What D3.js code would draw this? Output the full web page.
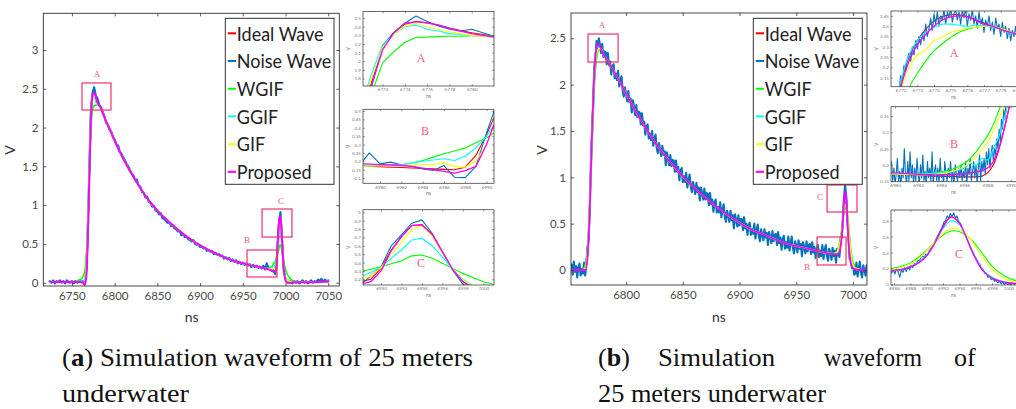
<!DOCTYPE html>
<html><head><meta charset="utf-8">
<script src="https://cdn.jsdelivr.net/npm/d3@7"></script>
<style>body{margin:0;background:#fff}svg{display:block}</style>
</head><body>
<script>
// ================= DATA =================
const seriesNames = ["Ideal Wave","Noise Wave","WGIF","GGIF","GIF","Proposed"];

// ---- Panel (a) main: filtered curves (time in ns, value in V)
const tA = [6725,6735,6745,6755,6760,6763,6765,6767,6769,6771,
            6773,6775,6776,6778,6780,6783,6786,6790,6795,6800,
            6810,6820,6830,6840,6850,6860,6870,6880,6890,6900,
            6910,6920,6930,6940,6950,6960,6970,6978,6983,6986,
            6988,6989,6990,6991,6992,6993,6994,6995,6996,6997,
            6998,6999,7000,7002,7005,7010,7020,7030,7040,7050];
const idealA = [0.01,0.01,0.01,0.01,0.01,0.01,0.00,0.15,0.80,1.65,
                2.32,2.46,2.45,2.39,2.33,2.27,2.19,2.08,1.96,1.83,
                1.60,1.40,1.22,1.06,0.93,0.82,0.72,0.63,0.55,0.48,
                0.42,0.37,0.32,0.28,0.25,0.22,0.20,0.18,0.165,0.155,
                0.165,0.20,0.33,0.55,0.71,0.84,0.855,0.73,0.52,0.32,
                0.18,0.10,0.05,0.02,0.01,0.005,0.005,0.005,0.01,0.015];
const wgifA = [0.01,0.01,0.01,0.02,0.04,0.08,0.15,0.40,0.90,1.60,
               2.11,2.27,2.28,2.29,2.29,2.26,2.19,2.08,1.96,1.83,
               1.60,1.40,1.22,1.06,0.93,0.82,0.72,0.63,0.55,0.48,
               0.42,0.37,0.32,0.28,0.25,0.22,0.20,0.19,0.20,0.245,
               0.28,0.31,0.35,0.385,0.42,0.48,0.49,0.45,0.39,0.33,
               0.27,0.22,0.17,0.11,0.06,0.02,0.01,0.01,0.01,0.015];
const ggifA = [0.01,0.01,0.01,0.01,0.015,0.02,0.04,0.30,1.00,1.80,
               2.31,2.42,2.40,2.33,2.30,2.26,2.19,2.08,1.96,1.83,
               1.60,1.40,1.22,1.06,0.93,0.82,0.72,0.63,0.55,0.48,
               0.42,0.37,0.32,0.28,0.25,0.22,0.20,0.18,0.19,0.21,
               0.23,0.28,0.35,0.45,0.55,0.67,0.69,0.60,0.47,0.32,
               0.20,0.12,0.07,0.04,0.02,0.01,0.005,0.005,0.01,0.015];
const gifA = [0.01,0.01,0.01,0.01,0.01,0.00,-0.02,0.25,0.90,1.70,
              2.29,2.44,2.42,2.36,2.31,2.26,2.19,2.08,1.96,1.83,
              1.60,1.40,1.22,1.06,0.93,0.82,0.72,0.63,0.55,0.48,
              0.42,0.37,0.32,0.28,0.25,0.22,0.20,0.18,0.175,0.185,
              0.165,0.20,0.30,0.49,0.64,0.80,0.84,0.72,0.52,0.33,
              0.19,0.11,0.06,0.03,0.015,0.005,0.005,0.005,0.01,0.015];
const propA = [0.01,0.01,0.01,0.01,0.01,0.00,-0.03,0.10,0.75,1.62,
               2.30,2.45,2.45,2.39,2.32,2.27,2.19,2.08,1.96,1.83,
               1.60,1.40,1.22,1.06,0.93,0.82,0.72,0.63,0.55,0.48,
               0.42,0.37,0.32,0.28,0.25,0.22,0.20,0.18,0.16,0.14,
               0.145,0.17,0.30,0.54,0.71,0.845,0.85,0.74,0.53,0.32,
               0.17,0.09,0.03,0.00,0.00,0.005,0.005,0.005,0.01,0.015];
// noisy wave (a): sampled every 2 ns from 6724 ns
const noiseA_t0 = 6724, noiseA_dt = 2;
const noiseA = [
 0.02,0.00,0.03,-0.01,0.02,0.01,0.03,0.00,0.02,-0.01,
 0.03,0.01,0.00,0.02,-0.01,0.02,0.00,0.03,0.01,0.02,
 0.00,0.05,0.45,1.30,2.17,2.44,2.52,2.41,2.37,2.29,
 2.26,2.20,2.15,2.06,2.04,1.97,1.95,1.87,1.85,1.78,
 1.77,1.69,1.66,1.62,1.58,1.53,1.50,1.45,1.41,1.38,
 1.32,1.33,1.25,1.24,1.17,1.16,1.10,1.11,1.04,1.03,
 0.98,0.99,0.93,0.92,0.88,0.90,0.83,0.82,0.80,0.77,
 0.78,0.73,0.74,0.70,0.69,0.66,0.67,0.61,0.63,0.59,
 0.60,0.56,0.55,0.53,0.55,0.50,0.49,0.50,0.46,0.47,
 0.44,0.45,0.41,0.42,0.40,0.41,0.37,0.38,0.36,0.37,
 0.34,0.35,0.31,0.33,0.30,0.32,0.28,0.30,0.27,0.29,
 0.25,0.27,0.24,0.26,0.23,0.25,0.22,0.24,0.20,0.23,
 0.20,0.22,0.19,0.21,0.18,0.22,0.17,0.25,0.19,0.18,
 0.15,0.16,0.11,0.36,0.75,0.91,0.53,0.14,0.05,0.03,
 0.00,0.02,-0.01,0.02,0.00,0.02,-0.01,0.01,0.03,0.00,
 0.02,-0.01,0.01,0.03,0.00,0.02,0.01,0.04,0.02,0.05,
 0.01,0.04,0.02,0.03];

// ---- Panel (b) main
const tB = [6752,6758,6762,6764,6766,6768,6770,6772,6774,6775,
            6776,6778,6780,6783,6786,6790,6795,6800,6810,6820,
            6830,6840,6850,6860,6870,6880,6890,6900,6910,6920,
            6930,6940,6950,6960,6970,6978,6983,6986,6988,6989,
            6990,6991,6992,6993,6994,6995,6996,6997,6998,6999,
            7000,7002,7005,7008,7012];
const idealB = [0.0,0.0,0.0,0.01,0.15,0.70,1.50,2.12,2.43,2.455,
                2.44,2.39,2.33,2.27,2.21,2.13,2.02,1.90,1.68,1.48,
                1.30,1.15,1.01,0.89,0.78,0.68,0.59,0.51,0.44,0.39,
                0.34,0.29,0.26,0.23,0.20,0.18,0.17,0.165,0.175,0.27,
                0.36,0.52,0.73,0.85,0.77,0.55,0.32,0.16,0.08,0.04,
                0.02,0.01,0.0,0.0,0.0];
const wgifB = [0.0,0.0,0.01,0.05,0.25,0.70,1.30,1.95,2.28,2.345,
               2.385,2.39,2.33,2.27,2.21,2.13,2.02,1.90,1.68,1.48,
               1.30,1.15,1.01,0.89,0.78,0.68,0.59,0.51,0.44,0.39,
               0.34,0.29,0.26,0.23,0.20,0.18,0.182,0.205,0.29,0.37,
               0.43,0.53,0.62,0.67,0.66,0.60,0.50,0.36,0.23,0.14,
               0.08,0.025,0.0,0.0,0.0];
const ggifB = [0.0,0.0,0.0,0.01,0.15,0.72,1.50,2.13,2.395,2.41,
               2.40,2.385,2.33,2.27,2.21,2.13,2.02,1.90,1.68,1.48,
               1.30,1.15,1.01,0.89,0.78,0.68,0.59,0.51,0.44,0.39,
               0.34,0.29,0.26,0.23,0.20,0.18,0.176,0.19,0.225,0.28,
               0.37,0.52,0.70,0.80,0.75,0.55,0.33,0.17,0.09,0.045,
               0.02,0.01,0.0,0.0,0.0];
const gifB = [0.0,0.0,0.0,0.02,0.18,0.70,1.40,2.06,2.33,2.37,
              2.39,2.39,2.33,2.27,2.21,2.13,2.02,1.90,1.68,1.48,
              1.30,1.15,1.01,0.89,0.78,0.68,0.59,0.51,0.44,0.39,
              0.34,0.29,0.26,0.23,0.20,0.18,0.172,0.195,0.27,0.32,
              0.42,0.53,0.64,0.705,0.69,0.61,0.47,0.32,0.19,0.10,
              0.05,0.02,0.01,0.0,0.0];
const propB = [0.0,0.0,0.0,0.0,0.12,0.65,1.45,2.10,2.40,2.445,
               2.44,2.385,2.33,2.27,2.21,2.13,2.02,1.90,1.68,1.48,
               1.30,1.15,1.01,0.89,0.78,0.68,0.59,0.51,0.44,0.39,
               0.34,0.29,0.26,0.23,0.20,0.18,0.172,0.172,0.19,0.255,
               0.36,0.52,0.72,0.845,0.77,0.55,0.32,0.16,0.08,0.04,
               0.02,0.01,0.0,0.0,0.0];
// noisy wave (b): every 1 ns from 6752 ns
const noiseB_t0 = 6752, noiseB_dt = 1;
const noiseB = [
 0.06,-0.05,0.09,-0.02,0.04,-0.08,0.03,0.07,-0.06,0.01,
 -0.04,0.08,-0.06,0.07,0.24,0.32,0.62,1.15,1.50,1.79,
 2.19,2.29,2.47,2.37,2.50,2.43,2.34,2.44,2.30,2.36,
 2.35,2.22,2.34,2.21,2.25,2.11,2.20,2.22,2.07,2.12,
 2.05,2.15,1.98,2.04,2.09,1.94,1.87,1.97,1.90,1.82,
 1.93,1.81,1.85,1.70,1.83,1.76,1.67,1.78,1.65,1.71,
 1.70,1.57,1.69,1.56,1.60,1.46,1.55,1.57,1.42,1.47,
 1.40,1.50,1.34,1.41,1.46,1.32,1.26,1.37,1.30,1.23,
 1.34,1.24,1.28,1.13,1.27,1.20,1.13,1.24,1.12,1.19,
 1.18,1.06,1.18,1.06,1.11,0.97,1.07,1.10,0.95,1.01,
 0.95,1.05,0.89,0.97,1.03,0.90,0.84,0.95,0.89,0.82,
 0.94,0.84,0.89,0.75,0.89,0.83,0.76,0.88,0.76,0.83,
 0.82,0.70,0.83,0.71,0.76,0.63,0.73,0.76,0.62,0.68,
 0.62,0.73,0.57,0.65,0.71,0.58,0.52,0.64,0.59,0.52,
 0.64,0.54,0.59,0.45,0.60,0.54,0.47,0.59,0.48,0.55,
 0.55,0.43,0.57,0.45,0.50,0.38,0.48,0.51,0.38,0.44,
 0.39,0.50,0.34,0.43,0.49,0.37,0.31,0.44,0.38,0.32,
 0.44,0.35,0.40,0.27,0.41,0.36,0.29,0.42,0.31,0.38,
 0.39,0.27,0.41,0.29,0.35,0.22,0.33,0.37,0.23,0.30,
 0.24,0.36,0.21,0.29,0.36,0.24,0.18,0.31,0.26,0.19,
 0.32,0.23,0.28,0.15,0.30,0.24,0.18,0.31,0.20,0.27,
 0.28,0.17,0.30,0.19,0.25,0.13,0.23,0.27,0.14,0.21,
 0.15,0.27,0.12,0.21,0.27,0.15,0.10,0.23,0.18,0.11,
 0.24,0.15,0.21,0.08,0.23,0.18,0.14,0.33,0.35,0.55,
 0.78,0.91,0.80,0.53,0.36,0.12,0.13,0.02,0.07,-0.05,
 -0.04,0.08,-0.07,0.02,0.09,-0.03,-0.08,0.05,0.00,-0.06,
 0.05];

// ---- Panel (a) zoom insets (1 ns samples)
const tInA_a = [6770,6771,6772,6773,6774,6775,6776,6777,6778,6779,6780,6781,6782];
const inA_a = {
  ideal:[1.30,1.75,2.15,2.33,2.43,2.46,2.445,2.42,2.385,2.355,2.33,2.31,2.29],
  noise:[1.20,1.70,2.18,2.335,2.44,2.525,2.46,2.41,2.37,2.35,2.37,2.33,2.29],
  wgif:[1.25,1.62,1.98,2.11,2.22,2.275,2.28,2.285,2.29,2.29,2.295,2.295,2.29],
  ggif:[1.45,1.85,2.19,2.31,2.40,2.42,2.37,2.35,2.32,2.31,2.30,2.29,2.28],
  gif:[1.40,1.80,2.16,2.31,2.41,2.44,2.40,2.37,2.34,2.32,2.30,2.29,2.28],
  prop:[1.30,1.72,2.13,2.33,2.44,2.46,2.445,2.42,2.38,2.35,2.32,2.30,2.28]};
const tInB_a = [6978,6979,6980,6981,6982,6983,6984,6985,6986,6987,6988,6989,6990,6991];
const inB_a = {
  ideal:[0.17,0.17,0.168,0.165,0.163,0.16,0.157,0.155,0.152,0.15,0.165,0.235,0.36,0.50],
  noise:[0.17,0.25,0.185,0.195,0.18,0.17,0.155,0.145,0.175,0.105,0.103,0.17,0.37,0.55],
  wgif:[0.17,0.172,0.175,0.177,0.18,0.19,0.205,0.225,0.245,0.262,0.28,0.31,0.34,0.38],
  ggif:[0.17,0.172,0.175,0.178,0.18,0.19,0.20,0.208,0.215,0.205,0.23,0.28,0.35,0.45],
  gif:[0.17,0.172,0.174,0.175,0.175,0.178,0.18,0.182,0.19,0.17,0.165,0.20,0.30,0.45],
  prop:[0.185,0.183,0.18,0.178,0.175,0.17,0.16,0.15,0.14,0.13,0.145,0.17,0.30,0.47]};
const tInC_a = [6988,6989,6990,6991,6992,6993,6994,6995,6996,6997,6998,6999,7000,7001];
const inC_a = {
  ideal:[0.17,0.20,0.33,0.55,0.71,0.84,0.855,0.73,0.52,0.32,0.18,0.10,0.05,0.02],
  noise:[0.13,0.24,0.35,0.60,0.73,0.87,0.91,0.75,0.53,0.31,0.14,0.08,0.04,0.03],
  wgif:[0.29,0.32,0.35,0.385,0.42,0.48,0.49,0.45,0.39,0.33,0.27,0.22,0.17,0.14],
  ggif:[0.23,0.28,0.35,0.45,0.55,0.67,0.69,0.60,0.47,0.32,0.20,0.12,0.07,0.04],
  gif:[0.19,0.24,0.34,0.49,0.64,0.80,0.84,0.72,0.52,0.33,0.19,0.11,0.06,0.03],
  prop:[0.14,0.17,0.30,0.54,0.71,0.845,0.85,0.74,0.53,0.32,0.17,0.09,0.04,0.02]};

// ---- Panel (b) zoom insets
const tInA_b = [6771.5,6772,6772.5,6773,6773.5,6774,6774.5,6775,6775.5,6776,6776.5,6777,6777.5,6778,6778.5,6779,6779.5];
const inA_b = {
  ideal:[1.95,2.12,2.25,2.33,2.385,2.425,2.447,2.456,2.456,2.447,2.43,2.415,2.40,2.39,2.375,2.36,2.345],
  wgif:[1.80,1.95,2.10,2.17,2.23,2.28,2.315,2.345,2.37,2.385,2.395,2.40,2.40,2.39,2.375,2.36,2.345],
  ggif:[1.95,2.13,2.26,2.33,2.37,2.395,2.41,2.41,2.405,2.40,2.405,2.40,2.395,2.385,2.37,2.36,2.345],
  gif:[1.90,2.08,2.20,2.26,2.285,2.33,2.345,2.37,2.38,2.39,2.395,2.40,2.40,2.39,2.375,2.36,2.345],
  prop:[1.90,2.10,2.23,2.31,2.36,2.40,2.43,2.445,2.45,2.445,2.43,2.41,2.40,2.385,2.372,2.36,2.345]};
const noiseInA_b_t0 = 6771.5, noiseInA_b_dt = 0.1;
const noiseInA_b = [
 1.92,1.96,2.00,2.05,2.09,2.16,2.13,2.21,2.18,2.24,
 2.27,2.23,2.30,2.26,2.33,2.29,2.35,2.31,2.37,2.33,
 2.41,2.35,2.39,2.44,2.38,2.46,2.41,2.47,2.40,2.45,
 2.43,2.48,2.41,2.47,2.44,2.49,2.42,2.46,2.48,2.43,
 2.47,2.41,2.48,2.44,2.49,2.40,2.46,2.43,2.48,2.41,
 2.45,2.39,2.47,2.41,2.44,2.37,2.43,2.40,2.45,2.38,
 2.42,2.36,2.44,2.39,2.41,2.35,2.42,2.37,2.40,2.34,
 2.39,2.33,2.38,2.35,2.40,2.32,2.37,2.34,2.36,2.31,
 2.35];
const tInB_b = [6979.5,6980,6980.5,6981,6981.5,6982,6982.5,6983,6983.5,6984,6984.5,
                6985,6985.5,6986,6986.5,6987,6987.5,6988,6988.5,6989,6989.5,6990,6990.5,6991];
const inB_b = {
  ideal:[0.173,0.172,0.171,0.170,0.169,0.168,0.167,0.166,0.165,0.165,0.164,0.164,0.163,0.163,0.163,0.163,0.165,0.175,0.20,0.25,0.32,0.40,0.48,0.57],
  wgif:[0.172,0.172,0.171,0.171,0.171,0.171,0.172,0.173,0.175,0.178,0.182,0.187,0.195,0.205,0.22,0.24,0.265,0.29,0.325,0.37,0.42,0.47,0.53,0.60],
  ggif:[0.175,0.175,0.174,0.173,0.172,0.172,0.172,0.173,0.174,0.176,0.178,0.18,0.185,0.19,0.205,0.198,0.22,0.215,0.25,0.29,0.35,0.42,0.50,0.58],
  gif:[0.172,0.172,0.171,0.170,0.170,0.169,0.169,0.170,0.171,0.173,0.176,0.18,0.187,0.195,0.207,0.225,0.245,0.27,0.305,0.345,0.385,0.44,0.51,0.58],
  prop:[0.175,0.175,0.174,0.173,0.172,0.171,0.170,0.170,0.169,0.169,0.170,0.170,0.171,0.172,0.175,0.178,0.182,0.19,0.21,0.255,0.32,0.40,0.48,0.57]};
const noiseInB_b_t0 = 6979.7, noiseInB_b_dt = 0.1;
const noiseInB_b = [
 0.21,0.15,0.19,0.14,0.17,0.22,0.15,0.18,0.13,0.19,
 0.16,0.25,0.17,0.14,0.21,0.15,0.24,0.16,0.20,0.14,
 0.19,0.15,0.22,0.17,0.14,0.20,0.16,0.23,0.15,0.18,
 0.14,0.21,0.16,0.19,0.15,0.24,0.14,0.18,0.20,0.15,
 0.19,0.14,0.22,0.16,0.18,0.14,0.21,0.17,0.15,0.19,
 0.16,0.21,0.15,0.18,0.14,0.20,0.17,0.15,0.19,0.16,
 0.20,0.15,0.18,0.16,0.21,0.14,0.19,0.17,0.22,0.15,
 0.18,0.21,0.16,0.20,0.14,0.19,0.23,0.15,0.21,0.18,
 0.22,0.17,0.24,0.20,0.25,0.19,0.23,0.26,0.21,0.25,
 0.23,0.28,0.25,0.31,0.27,0.34,0.31,0.37,0.34,0.40,
 0.39,0.43,0.42,0.47,0.46,0.50,0.49,0.54,0.53,0.57,
 0.57,0.61,0.60,0.64];
const tInC_b = [6985,6986,6987,6988,6989,6990,6991,6992,6993,6994,6995,6996,6997,6998,6999,7000,7001,7002];
const inC_b = {
  ideal:[0.168,0.172,0.185,0.215,0.27,0.36,0.52,0.73,0.85,0.77,0.55,0.32,0.16,0.08,0.04,0.02,0.01,0.005],
  wgif:[0.19,0.205,0.23,0.27,0.34,0.43,0.53,0.62,0.67,0.66,0.60,0.50,0.36,0.23,0.14,0.08,0.045,0.025],
  ggif:[0.17,0.175,0.19,0.225,0.28,0.37,0.52,0.70,0.80,0.75,0.55,0.33,0.17,0.09,0.045,0.02,0.01,0.005],
  gif:[0.18,0.19,0.215,0.255,0.32,0.42,0.53,0.64,0.705,0.69,0.61,0.47,0.32,0.19,0.10,0.05,0.025,0.015],
  prop:[0.17,0.175,0.19,0.22,0.27,0.36,0.52,0.72,0.845,0.77,0.55,0.32,0.16,0.08,0.04,0.02,0.01,0.005]};
const noiseInC_b_t0 = 6985.7, noiseInC_b_dt = 0.2;
const noiseInC_b = [
 0.14,0.19,0.13,0.20,0.16,0.09,0.18,0.15,0.21,0.16,
 0.22,0.18,0.24,0.21,0.26,0.25,0.30,0.29,0.34,0.35,
 0.34,0.38,0.37,0.42,0.45,0.48,0.52,0.56,0.60,0.64,
 0.68,0.72,0.78,0.80,0.86,0.83,0.89,0.85,0.90,0.83,
 0.86,0.79,0.77,0.72,0.66,0.63,0.57,0.53,0.47,0.43,
 0.40,0.35,0.32,0.27,0.25,0.20,0.18,0.14,0.13,0.09,
 0.10,0.06,0.07,0.04,0.05,0.02,0.04,0.01,0.03,0.00,
 0.02,0.00,0.02,-0.01,0.02,0.00,0.01,-0.01,0.02,0.00,
 0.01,0.00];

// tick labels
const xTicksA = [6750,6800,6850,6900,6950,7000,7050];
const yTicksA = [0,0.5,1,1.5,2,2.5,3];
const xTicksB = [6800,6850,6900,6950,7000];
const yTicksB = [0,0.5,1,1.5,2,2.5];
const insetTicks = {
  aA:{x:[6772,6774,6776,6778,6780], y:[1.8,1.9,2,2.1,2.2,2.3,2.4,2.5]},
  aB:{x:[6980,6982,6984,6986,6988,6990], y:[0.1,0.15,0.2,0.25,0.3,0.35,0.4,0.45,0.5]},
  aC:{x:[6990,6992,6994,6996,6998,7000], y:[0.2,0.3,0.4,0.5,0.6,0.7,0.8,0.9,1]},
  bA:{x:[6772,6773,6774,6775,6776,6777,6778,6779], y:[2.15,2.2,2.25,2.3,2.35,2.4,2.45]},
  bB:{x:[6980,6982,6984,6986,6988,6990], y:[0.15,0.2,0.25,0.3,0.35]},
  bC:{x:[6986,6988,6990,6992,6994,6996,6998,7000], y:[0,0.2,0.4,0.6,0.8]}
};
// marked regions [t0,t1,v0,v1]
const regionsA = {A:[6761.8,6795.7,2.226,2.575], B:[6954.9,6990.0,0.0735,0.4216], C:[6972.5,7007.5,0.589,0.950]};
const regionsB = {A:[6766.5,6793.0,2.244,2.546], B:[6968.3,6993.8,0.054,0.356], C:[6977.1,7003.5,0.626,0.917]};

// ================= STYLE / LAYOUT =================
const COLORS = {ideal:"#ff0000", noise:"#0072bd", wgif:"#00ff00", ggif:"#00ffff", gif:"#ffff00", prop:"#ff00ff"};
const legendColors = [COLORS.ideal,COLORS.noise,COLORS.wgif,COLORS.ggif,COLORS.gif,COLORS.prop];
const REG = "#ee3366", LETTER = "#ef5a85";
const SERIF = "'Liberation Serif', 'Times New Roman', Times, serif";
const W = 1016, H = 409;
const svg = d3.select("body").append("svg").attr("width",W).attr("height",H)
  .style("font-family","Lato, 'Open Sans', sans-serif");
const fmt = d => String(+(+d).toFixed(3));
let clipN = 0;
const zipT = (t0,dt,v) => v.map((d,i)=>[t0+i*dt,d]);

function drawPlot(o){
  const x = d3.scaleLinear().domain(o.xd).range([o.l,o.r]);
  const y = d3.scaleLinear().domain(o.yd).range([o.b,o.t]);
  const g = svg.append("g");
  const id = "clip"+(clipN++);
  svg.append("clipPath").attr("id",id).append("rect")
    .attr("x",o.l).attr("y",o.t).attr("width",o.r-o.l).attr("height",o.b-o.t);
  const pg = g.append("g").attr("clip-path",`url(#${id})`);
  o.series.forEach(s=>{
    const line = d3.line().x(d=>x(d[0])).y(d=>y(d[1])).curve(s.curve||d3.curveLinear);
    pg.append("path").datum(s.pts).attr("d",line).attr("fill","none")
      .attr("stroke",s.color).attr("stroke-width",s.w)
      .attr("stroke-linejoin","round").attr("stroke-linecap","round");
  });
  const ts = o.tick, fs = o.fs;
  const style = sel => { sel.select(".domain").remove();
    sel.selectAll("line").attr("stroke",o.axc).attr("stroke-width",o.tw);
    sel.selectAll("text").attr("fill",o.lc).attr("font-size",fs).attr("font-family","Lato, sans-serif"); };
  g.append("g").attr("transform",`translate(0,${o.b})`)
    .call(d3.axisBottom(x).tickValues(o.xt).tickFormat(fmt).tickSizeInner(-ts).tickSizeOuter(0).tickPadding(o.xpad)).call(style);
  g.append("g").attr("transform",`translate(0,${o.t})`)
    .call(d3.axisTop(x).tickValues(o.xt).tickFormat("").tickSizeInner(-ts).tickSizeOuter(0)).call(style);
  g.append("g").attr("transform",`translate(${o.l},0)`)
    .call(d3.axisLeft(y).tickValues(o.yt).tickFormat(fmt).tickSizeInner(-ts).tickSizeOuter(0).tickPadding(o.ypad)).call(style);
  g.append("g").attr("transform",`translate(${o.r},0)`)
    .call(d3.axisRight(y).tickValues(o.yt).tickFormat("").tickSizeInner(-ts).tickSizeOuter(0)).call(style);
  g.append("rect").attr("x",o.l).attr("y",o.t).attr("width",o.r-o.l).attr("height",o.b-o.t)
    .attr("fill","none").attr("stroke",o.axc).attr("stroke-width",o.bw);
  g.append("text").attr("x",o.nsX).attr("y",o.nsY).attr("text-anchor","middle")
    .attr("font-size",o.tfs).attr("fill",o.tc).text("ns");
  g.append("text").attr("transform",`translate(${o.vX},${o.vY}) rotate(-90)`).attr("text-anchor","middle")
    .attr("font-size",o.tfs).attr("fill",o.tc).text("V");
  return {x,y,g};
}

function seriesSet(t, obj, noisePts, widths, curve){
  return [
    {pts:d3.zip(t,obj.ideal), color:COLORS.ideal, w:widths[0], curve},
    {pts:noisePts, color:COLORS.noise, w:widths[1]},
    {pts:d3.zip(t,obj.wgif), color:COLORS.wgif, w:widths[2], curve},
    {pts:d3.zip(t,obj.ggif), color:COLORS.ggif, w:widths[3], curve},
    {pts:d3.zip(t,obj.gif), color:COLORS.gif, w:widths[4], curve},
    {pts:d3.zip(t,obj.prop), color:COLORS.prop, w:widths[5], curve}];
}

function legend(x0,y0,w,h){
  const g = svg.append("g");
  g.append("rect").attr("x",x0).attr("y",y0).attr("width",w).attr("height",h)
    .attr("fill","#fff").attr("stroke","#333").attr("stroke-width",1);
  seriesNames.forEach((n,i)=>{
    const cy = y0+15+27.7*i;
    g.append("line").attr("x1",x0+2.4).attr("x2",x0+10.7).attr("y1",cy).attr("y2",cy)
      .attr("stroke",legendColors[i]).attr("stroke-width",2);
    g.append("text").attr("transform",`translate(${x0+11.5},${cy}) scale(0.9,1)`)
      .attr("dy","0.36em").attr("font-size",20).attr("fill","#222").text(n);
  });
}

function regions(p, reg, letters, fs){
  Object.keys(reg).forEach(k=>{
    const r = reg[k];
    p.g.append("rect").attr("x",p.x(r[0])).attr("y",p.y(r[3]))
      .attr("width",p.x(r[1])-p.x(r[0])).attr("height",p.y(r[2])-p.y(r[3]))
      .attr("fill","none").attr("stroke",REG).attr("stroke-width",1.2);
    const L = letters[k];
    p.g.append("text").attr("x",L[0]).attr("y",L[1]).attr("dy","0.35em").attr("text-anchor","middle")
      .attr("font-family",SERIF).attr("font-size",fs).attr("fill",LETTER).text(k);
  });
}

// ----- Panel (a) main
const mainStyle = {tick:3, fs:11.5, xpad:6, ypad:5, axc:"#333", tw:0.8, lc:"#4a4a4a", bw:0.9, tfs:14, tc:"#333"};
const pA = drawPlot(Object.assign({l:43.3,r:339.3,t:13.3,b:286, xd:[6716.5,7062.9], yd:[-0.0425,3.473],
  xt:xTicksA, yt:yTicksA, nsX:191.7, nsY:322, vX:15, vY:150,
  series: seriesSet(tA,{ideal:idealA,wgif:wgifA,ggif:ggifA,gif:gifA,prop:propA},
                    zipT(noiseA_t0,noiseA_dt,noiseA),[1.5,2.1,1.5,1.5,1.5,2],d3.curveMonotoneX)}, mainStyle));
regions(pA, regionsA, {A:[97,74],B:[247,240],C:[281,201]}, 9);
legend(225.3,18.3,108.7,166);

// ----- Panel (b) main
const pB = drawPlot(Object.assign({l:571,r:867,t:13,b:285, xd:[6751.5,7012.3], yd:[-0.1618,2.773],
  xt:xTicksB, yt:yTicksB, nsX:719, nsY:322, vX:547, vY:150,
  series: seriesSet(tB,{ideal:idealB,wgif:wgifB,ggif:ggifB,gif:gifB,prop:propB},
                    zipT(noiseB_t0,noiseB_dt,noiseB),[1.5,2.1,1.5,1.5,1.5,1.8],d3.curveMonotoneX)}, mainStyle));
regions(pB, regionsB, {A:[602,25],B:[807,267],C:[820,197]}, 9);
legend(753.3,18.3,109,166);

// ----- Insets
const insetStyle = {tick:1.8, fs:4.6, xpad:2, ypad:2, axc:"#444", tw:0.6, lc:"#777", bw:0.8, tfs:5, tc:"#777"};
function inset(o, letter){
  const p = drawPlot(Object.assign(o, insetStyle, {nsX:(o.l+Math.min(o.r,1016))/2, nsY:o.b+12, vX:o.l-13, vY:(o.t+o.b)/2}));
  p.g.append("text").attr("x",letter[1]).attr("y",letter[2]).attr("dy","0.35em").attr("text-anchor","middle")
    .attr("font-family",SERIF).attr("font-size",12).attr("fill",LETTER).text(letter[0]);
}
const wIn = [1.1,1.1,1.1,1.1,1.1,1.3];
inset({l:363,r:494,t:11.5,b:86, xd:[6770.24,6782.0], yd:[1.712,2.577], xt:insetTicks.aA.x, yt:insetTicks.aA.y,
  series: seriesSet(tInA_a, inA_a, d3.zip(tInA_a,inA_a.noise), wIn)}, ["A",421,58]);
inset({l:363,r:494,t:109.3,b:183.3, xd:[6978.4,6990.7], yd:[0.069,0.51], xt:insetTicks.aB.x, yt:insetTicks.aB.y,
  series: seriesSet(tInB_a, inB_a, d3.zip(tInB_a,inB_a.noise), wIn)}, ["B",425,131]);
inset({l:363,r:494,t:209.7,b:285, xd:[6988.24,7001.05], yd:[0.131,1.032], xt:insetTicks.aC.x, yt:insetTicks.aC.y,
  series: seriesSet(tInC_a, inC_a, d3.zip(tInC_a,inC_a.noise), wIn)}, ["C",421,263]);

const cr = d3.curveCatmullRom;
inset({l:891,r:1026,t:11,b:86.7, xd:[6771.42,6779.52], yd:[2.106,2.474], xt:insetTicks.bA.x, yt:insetTicks.bA.y,
  series: seriesSet(tInA_b, inA_b, zipT(noiseInA_b_t0,noiseInA_b_dt,noiseInA_b), wIn, cr)}, ["A",954,53]);
inset({l:891,r:1026,t:106.7,b:181.7, xd:[6979.65,6991.32], yd:[0.148,0.379], xt:insetTicks.bB.x, yt:insetTicks.bB.y,
  series: seriesSet(tInB_b, inB_b, zipT(noiseInB_b_t0,noiseInB_b_dt,noiseInB_b), wIn, cr)}, ["B",954,144]);
inset({l:891,r:1026,t:210,b:285, xd:[6985.63,7002.15], yd:[-0.008,0.934], xt:insetTicks.bC.x, yt:insetTicks.bC.y,
  series: seriesSet(tInC_b, inC_b, zipT(noiseInC_b_t0,noiseInC_b_dt,noiseInC_b), wIn, cr)}, ["C",959,254]);

// ----- Captions
const cap = svg.append("g").attr("font-family",SERIF).attr("font-size",26).attr("fill","#111");
const l1 = cap.append("text").attr("x",62).attr("y",366).attr("textLength",411).attr("lengthAdjust","spacingAndGlyphs");
l1.append("tspan").text("(");
l1.append("tspan").attr("font-weight","bold").text("a");
l1.append("tspan").text(") Simulation waveform of 25 meters");
cap.append("text").attr("x",62).attr("y",402).attr("textLength",127).attr("lengthAdjust","spacingAndGlyphs").text("underwater");
const b1 = cap.append("text").attr("x",598).attr("y",366);
b1.append("tspan").text("(");
b1.append("tspan").attr("font-weight","bold").text("b");
b1.append("tspan").text(")");
cap.append("text").attr("x",658).attr("y",366).attr("textLength",117).attr("lengthAdjust","spacingAndGlyphs").text("Simulation");
cap.append("text").attr("x",824).attr("y",366).attr("textLength",98).attr("lengthAdjust","spacingAndGlyphs").text("waveform");
cap.append("text").attr("x",954).attr("y",366).text("of");
cap.append("text").attr("x",598).attr("y",402).attr("textLength",228).attr("lengthAdjust","spacingAndGlyphs").text("25 meters underwater");
</script>
</body></html>
